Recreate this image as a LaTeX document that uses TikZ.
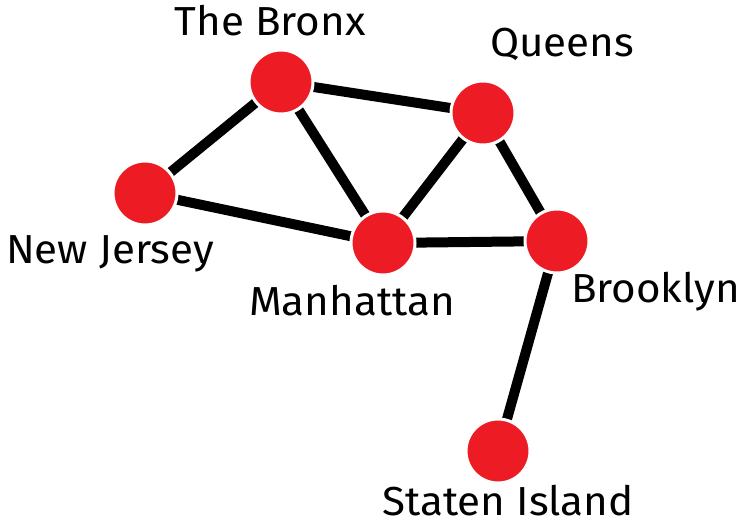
\documentclass[tikz,border=0pt]{standalone}
\usepackage{fontspec}
\setmainfont[FakeStretch=1.04]{Fira Sans}
\definecolor{nodered}{HTML}{ED1C24}
\begin{document}
\begin{tikzpicture}[x=1pt,y=-1pt,
  city/.style={circle,fill=nodered,draw=white,line width=3pt,minimum size=64pt,inner sep=0pt},
  road/.style={line width=10pt,black},
  lbl/.style={anchor=base,inner sep=0pt,font=\fontsize{40.5}{48}\selectfont}]
\useasboundingbox (0,0) rectangle (743,526);
\coordinate (bx) at (281,82);
\coordinate (qn) at (483,113);
\coordinate (nj) at (145,193);
\coordinate (mh) at (383,243);
\coordinate (bk) at (557,241);
\coordinate (si) at (498,451);
\draw[road] (bx) -- (qn);
\draw[road] (bx) -- (nj);
\draw[road] (bx) -- (mh);
\draw[road] (nj) -- (mh);
\draw[road] (qn) -- (mh);
\draw[road] (qn) -- (bk);
\draw[road] (mh) -- (bk);
\draw[road] (bk) -- (si);
\node[city] (nbx) at (bx) {};
\node[city] (nqn) at (qn) {};
\node[city] (nnj) at (nj) {};
\node[city] (nmh) at (mh) {};
\node[city] (nbk) at (bk) {};
\node[city] (nsi) at (si) {};
\node[lbl] (lbx) at (270,36) {The Bronx};
\node[lbl] (lqn) at (562,57) {Queens};
\node[lbl] (lnj) at (110,263) {New Jersey};
\node[lbl] (lmh) at (352,315) {Manhattan};
\node[lbl,anchor=base east] (lbk) at (740,302) {Brooklyn};
\node[lbl] (lsi) at (508,515) {Staten Island};
\end{tikzpicture}
\end{document}
